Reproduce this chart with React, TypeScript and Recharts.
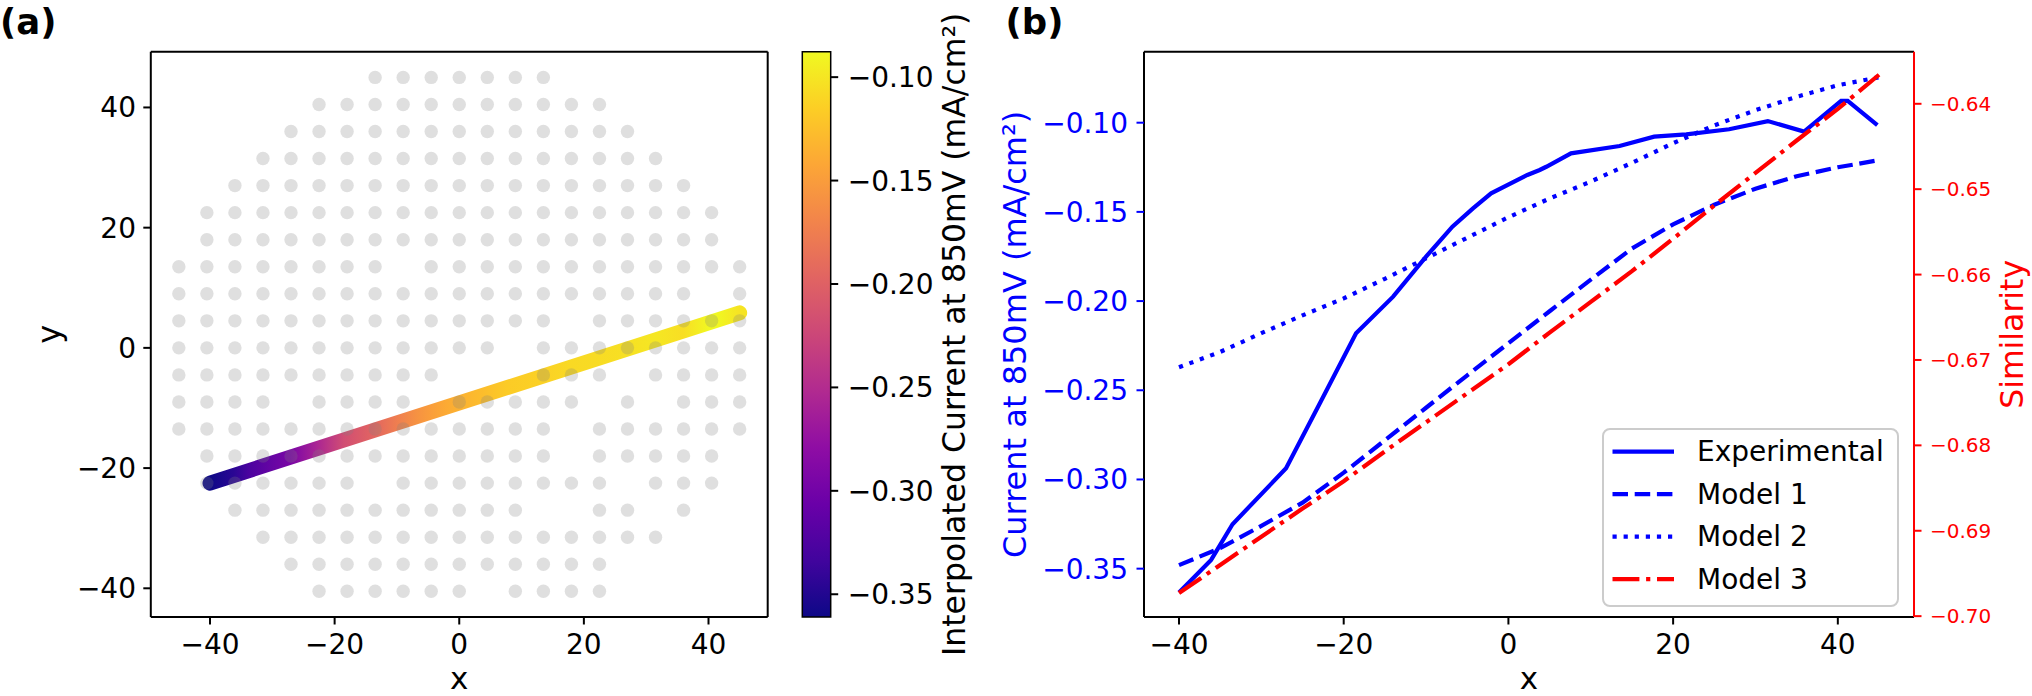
import React from "react";
import {
  ComposedChart,
  Line,
  Scatter,
  XAxis,
  YAxis,
  ReferenceLine,
  ReferenceArea,
  Legend,
} from "recharts";

const FONT = "'DejaVu Sans', 'Liberation Sans', sans-serif";
const BLUE = "#0000ff";
const RED = "#ff0000";
const LW = 4.2;

// ---- panel (b): current along the scan line ----
const expX = [-40, -36.1, -33.5, -27, -22.8, -18.5, -14, -10, -6.8, -4.3, -2.1, 2.3, 3.8, 4.6, 7.6, 13.5, 17.7, 21.6, 26.8, 31.5, 35.9, 40.4, 41.2, 44.8];
const expY = [-0.3634, -0.3451, -0.3251, -0.2937, -0.2564, -0.2181, -0.1975, -0.1751, -0.1583, -0.148, -0.1396, -0.1293, -0.1265, -0.1247, -0.1172, -0.1131, -0.1078, -0.1065, -0.1037, -0.0991, -0.105, -0.0878, -0.0878, -0.1013];

const modelX = [-40, -35, -30, -25, -20, -15, -10, -5, 0, 5, 10, 15, 20, 25, 30, 35, 40, 45];
const model1 = [-0.348, -0.3385, -0.326, -0.313, -0.2962, -0.278, -0.2598, -0.2416, -0.2236, -0.2057, -0.188, -0.1705, -0.157, -0.146, -0.137, -0.13, -0.125, -0.121];
const model2 = [-0.2371, -0.2285, -0.218, -0.208, -0.1985, -0.1875, -0.176, -0.1645, -0.153, -0.1425, -0.133, -0.1225, -0.1115, -0.1015, -0.093, -0.0855, -0.079, -0.0745];
const model3Sim = [-0.6973, -0.694, -0.6907, -0.6874, -0.6842, -0.6807, -0.6773, -0.6739, -0.6705, -0.6668, -0.6632, -0.6596, -0.6558, -0.6519, -0.6481, -0.6443, -0.6406, -0.6366];

const xTicks = [-40, -20, 0, 20, 40];
const curTicks = [-0.35, -0.3, -0.25, -0.2, -0.15, -0.1];
const simTicks = [-0.7, -0.69, -0.68, -0.67, -0.66, -0.65, -0.64];
const curDomain = [-0.3771, -0.0602];
const simDomain = [-0.7001, -0.6339];
const xDomainB = [-44.25, 49.25];

// ---- panel (a): wafer sites and scan line ----
const waferPitch = 4.5;
const waferRowJ = [10, 9, 8, 7, 6, 5, 4, 3, 2, 1, 0, -1, -2, -3, -4, -5, -6, -7, -8, -9];
const waferRowMinI = [-3, -5, -6, -7, -8, -9, -9, -10, -10, -10, -10, -10, -10, -10, -9, -9, -8, -7, -6, -5];
const waferRowMaxI = [3, 5, 6, 7, 8, 9, 9, 10, 10, 10, 10, 10, 10, 10, 9, 9, 8, 7, 5, 5];
// [i, j] sites with no point
const waferGaps = [[-2, 3], [9, 2], [4, 1], [2, 0], [0, -1], [1, -1], [2, -1], [6, -1], [-6, -2], [-1, -2], [5, -2], [7, -2], [4, -3], [4, -4], [-3, -5], [6, -5], [3, -6], [4, -6], [7, -6], [1, -9]];
const scanX = [-40, 45];
const scanY = [-22.5, 5.83];
const xDomainA = [-49.5, 49.5];
const yDomainA = [-44.775, 49.275];

const cbDomain = [-0.361, -0.0877];
const cbTicks = [-0.35, -0.3, -0.25, -0.2, -0.15, -0.1];

const PLASMA = ["#0d0887", "#41049d", "#6a00a8", "#8f0da4", "#b12a90", "#cc4778", "#e16462", "#f2844b", "#fca636", "#fcce25", "#f0f921"];

function plasma(t: number) {
  const c = Math.max(0, Math.min(1, t)) * (PLASMA.length - 1);
  const i = Math.min(Math.floor(c), PLASMA.length - 2);
  const f = c - i;
  const a = PLASMA[i], b = PLASMA[i + 1];
  const ch = (s: string, k: number) => parseInt(s.slice(1 + 2 * k, 3 + 2 * k), 16);
  const mix = [0, 1, 2].map((k) => Math.round(ch(a, k) + (ch(b, k) - ch(a, k)) * f));
  return `rgb(${mix.join(",")})`;
}

const minus = (s: string) => s.replace("-", "\u2212");
const fmtInt = (v: number) => minus(String(v));
const fmt2 = (v: number) => minus(v.toFixed(2));

const expData = expX.map((x, i) => ({ x, y: expY[i] }));
const m1Data = modelX.map((x, i) => ({ x, y: model1[i] }));
const m2Data = modelX.map((x, i) => ({ x, y: model2[i] }));
const m3Data = modelX.map((x, i) => ({ x, s: model3Sim[i] }));

const waferDots: { x: number; y: number }[] = [];
waferRowJ.forEach((j, r) => {
  for (let i = waferRowMinI[r]; i <= waferRowMaxI[r]; i++) {
    if (waferGaps.some((g) => g[0] === i && g[1] === j)) continue;
    waferDots.push({ x: i * waferPitch, y: j * waferPitch });
  }
});
const scanData = scanX.map((x, i) => ({ x, y: scanY[i] }));

const series = [
  { name: "Experimental", color: BLUE, dash: undefined as string | undefined },
  { name: "Model 1", color: BLUE, dash: "15.5 6.7" },
  { name: "Model 2", color: BLUE, dash: "4.2 6.9" },
  { name: "Model 3", color: RED, dash: "26.9 6.7 4.2 6.7" },
];

const AxisTitle = (props: any) => {
  const { viewBox, text, dx = 0, dy = 0, vertical = false, color = "#000", size = 32 } = props;
  if (!viewBox) return null;
  const { x = 0, y = 0, width = 0, height = 0 } = viewBox;
  if (vertical) {
    const cx = x + dx;
    const cy = y + height / 2;
    return (
      <text x={cx} y={cy} transform={`rotate(-90 ${cx} ${cy})`} textAnchor="middle" dominantBaseline="central" fill={color} fontSize={size} fontFamily={FONT}>
        {text}
      </text>
    );
  }
  return (
    <text x={x + width / 2} y={y + dy} textAnchor="middle" fill={color} fontSize={size} fontFamily={FONT}>
      {text}
    </text>
  );
};

const renderLegend = () => (
  <svg width={297} height={179} style={{ display: "block" }}>
    <rect x={1} y={1} width={295} height={177} rx={7} fill="#fff" fillOpacity={0.8} stroke="#cccccc" strokeWidth={2} />
    {series.map((s, k) => {
      const yc = 23.6 + k * 42.5;
      return (
        <g key={s.name}>
          <line x1={10.5} x2={72} y1={yc} y2={yc} stroke={s.color} strokeWidth={LW} strokeDasharray={s.dash} />
          <text x={95} y={yc} dominantBaseline="central" fontSize={28} fontFamily={FONT} fill="#000">
            {s.name}
          </text>
        </g>
      );
    })}
  </svg>
);

const grayDot = (p: any) => <circle cx={p.cx} cy={p.cy} r={6.7} fill="#808080" fillOpacity={0.25} />;

const tickBlack = { fontSize: 28, fill: "#000", fontFamily: FONT };
const blackLine = { stroke: "#000", strokeWidth: 2 };

export default function App() {
  const lineStops = expX.map((x, i) => ({
    off: (x - scanX[0]) / (scanX[1] - scanX[0]),
    col: plasma((expY[i] - cbDomain[0]) / (cbDomain[1] - cbDomain[0])),
  }));

  return (
    <div style={{ position: "absolute", left: 0, top: 0, width: 2032, height: 696, background: "#fff", fontFamily: FONT, overflow: "hidden" }}>
      <svg width={0} height={0} style={{ position: "absolute" }}>
        <defs>
          <linearGradient id="scanGrad" x1="0" y1="0" x2="1" y2="0">
            {lineStops.map((s, i) => (
              <stop key={i} offset={Math.max(0, Math.min(1, s.off))} stopColor={s.col} />
            ))}
          </linearGradient>
          <linearGradient id="plasmaV" x1="0" y1="1" x2="0" y2="0">
            {PLASMA.map((c, i) => (
              <stop key={i} offset={i / (PLASMA.length - 1)} stopColor={c} />
            ))}
          </linearGradient>
        </defs>
      </svg>

      {/* panel (a) wafer map */}
      <div style={{ position: "absolute", left: 0, top: 0 }}>
        <ComposedChart width={800} height={696} margin={{ top: 51.7, right: 32.3, bottom: 0, left: 0 }}>
          <XAxis
            dataKey="x"
            type="number"
            domain={xDomainA}
            allowDataOverflow
            ticks={xTicks}
            interval={0}
            height={79}
            tickSize={7.5}
            tickMargin={9.8}
            tickFormatter={fmtInt}
            tick={tickBlack}
            axisLine={blackLine}
            tickLine={blackLine}
            label={<AxisTitle text="x" dy={72} size={31} />}
          />
          <YAxis
            dataKey="y"
            type="number"
            domain={yDomainA}
            allowDataOverflow
            ticks={xTicks}
            interval={0}
            width={150.8}
            tickSize={7.5}
            tickMargin={7.3}
            tickFormatter={fmtInt}
            tick={tickBlack}
            axisLine={blackLine}
            tickLine={blackLine}
            label={<AxisTitle text="y" vertical dx={49} size={32} />}
          />
          <ReferenceLine y={yDomainA[1]} stroke="#000" strokeWidth={2} ifOverflow="visible" />
          <ReferenceLine x={xDomainA[1]} stroke="#000" strokeWidth={2} ifOverflow="visible" />
          <Line
            data={scanData}
            dataKey="y"
            type="linear"
            stroke="url(#scanGrad)"
            strokeWidth={15}
            strokeLinecap="round"
            dot={false}
            activeDot={false}
            isAnimationActive={false}
          />
          <Scatter data={waferDots} dataKey="y" shape={grayDot} isAnimationActive={false} />
        </ComposedChart>
      </div>

      {/* colorbar */}
      <div style={{ position: "absolute", left: 780, top: 0 }}>
        <ComposedChart width={300} height={696} data={[{ x: 0 }, { x: 1 }]} margin={{ top: 51.7, right: 0, bottom: 79, left: 22.3 }}>
          <XAxis dataKey="x" type="number" domain={[0, 1]} hide />
          <YAxis
            orientation="right"
            type="number"
            domain={cbDomain}
            allowDataOverflow
            ticks={cbTicks}
            interval={0}
            width={249.3}
            tickSize={7.5}
            tickMargin={9.5}
            tickFormatter={fmt2}
            tick={tickBlack}
            axisLine={false}
            tickLine={blackLine}
            label={<AxisTitle text="Interpolated Current at 850mV (mA/cm²)" vertical dx={123.5} size={31.5} />}
          />
          <ReferenceArea x1={0} x2={1} y1={cbDomain[0]} y2={cbDomain[1]} fill="url(#plasmaV)" fillOpacity={1} stroke="#000" strokeWidth={1.5} ifOverflow="visible" />
        </ComposedChart>
      </div>

      {/* panel (b) profiles */}
      <div style={{ position: "absolute", left: 960, top: 0 }}>
        <ComposedChart width={1072} height={696} margin={{ top: 51.7, right: 0, bottom: 0, left: 0 }}>
          <XAxis
            dataKey="x"
            type="number"
            domain={xDomainB}
            allowDataOverflow
            ticks={xTicks}
            interval={0}
            height={79}
            tickSize={7.5}
            tickMargin={9.8}
            tickFormatter={fmtInt}
            tick={tickBlack}
            axisLine={blackLine}
            tickLine={blackLine}
            label={<AxisTitle text="x" dy={72} size={31} />}
          />
          <YAxis
            yAxisId="cur"
            type="number"
            domain={curDomain}
            allowDataOverflow
            ticks={curTicks}
            interval={0}
            width={184}
            tickSize={7.5}
            tickMargin={8.5}
            tickFormatter={fmt2}
            tick={{ fontSize: 28, fill: BLUE, fontFamily: FONT }}
            axisLine={blackLine}
            tickLine={{ stroke: BLUE, strokeWidth: 2 }}
            label={<AxisTitle text="Current at 850mV (mA/cm²)" vertical dx={55.5} size={32} color={BLUE} />}
          />
          <YAxis
            yAxisId="sim"
            orientation="right"
            type="number"
            domain={simDomain}
            allowDataOverflow
            ticks={simTicks}
            interval={0}
            width={118}
            tickSize={7.5}
            tickMargin={8.5}
            tickFormatter={fmt2}
            tick={{ fontSize: 20, fill: RED, fontFamily: FONT }}
            axisLine={{ stroke: RED, strokeWidth: 2 }}
            tickLine={{ stroke: RED, strokeWidth: 2 }}
            label={<AxisTitle text="Similarity" vertical dx={98.5} size={31.5} color={RED} />}
          />
          <ReferenceLine yAxisId="cur" y={curDomain[1]} stroke="#000" strokeWidth={2} ifOverflow="visible" />
          <Line yAxisId="cur" data={expData} dataKey="y" name="Experimental" type="linear" stroke={BLUE} strokeWidth={LW} dot={false} activeDot={false} isAnimationActive={false} />
          <Line yAxisId="cur" data={m1Data} dataKey="y" name="Model 1" type="linear" stroke={BLUE} strokeWidth={LW} strokeDasharray={series[1].dash} dot={false} activeDot={false} isAnimationActive={false} />
          <Line yAxisId="cur" data={m2Data} dataKey="y" name="Model 2" type="linear" stroke={BLUE} strokeWidth={LW} strokeDasharray={series[2].dash} dot={false} activeDot={false} isAnimationActive={false} />
          <Line yAxisId="sim" data={m3Data} dataKey="s" name="Model 3" type="linear" stroke={RED} strokeWidth={LW} strokeDasharray={series[3].dash} dot={false} activeDot={false} isAnimationActive={false} />
          <Legend
            layout="vertical"
            align="center"
            verticalAlign="middle"
            content={renderLegend}
            wrapperStyle={{ position: "absolute", left: 642, top: 428, width: 297, height: 179 }}
          />
        </ComposedChart>
      </div>

      {/* panel letters */}
      <svg width={2032} height={696} style={{ position: "absolute", left: 0, top: 0, pointerEvents: "none" }}>
        <text x={0} y={33.7} fontSize={35.5} fontWeight="bold" fontFamily={FONT} fill="#000">(a)</text>
        <text x={1005.5} y={33.7} fontSize={35.5} fontWeight="bold" fontFamily={FONT} fill="#000">(b)</text>
      </svg>
    </div>
  );
}
